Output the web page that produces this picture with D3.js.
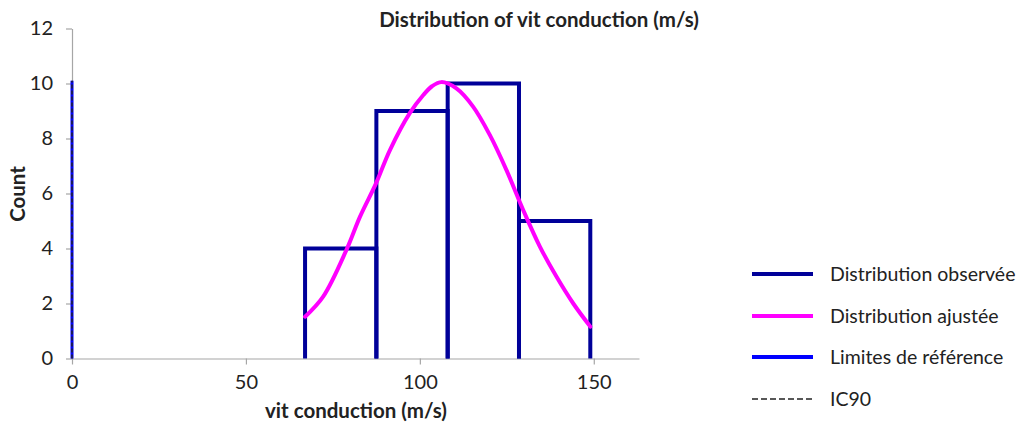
<!DOCTYPE html>
<html><head><meta charset="utf-8">
<script src="https://cdn.jsdelivr.net/npm/d3@7"></script>
<style>
body{margin:0;background:#fff;}
text{font-family:Lato, "Open Sans", sans-serif;fill:#222;}
</style></head>
<body><svg id="c" width="1026" height="425"></svg>
<script>
// Data
const binEdges = [67.0, 87.5, 108.0, 128.5, 149.0];
const binCounts = [4, 9, 10, 5];
const fitX = [67.0, 72.2, 78.9, 82.8, 87.4, 91.4, 97.1, 101.0, 103.5, 106.2, 110.5, 115.3, 120.1, 124.9, 129.7, 134.5, 139.3, 144.1, 149.0];
const fitY = [1.52, 2.25, 3.95, 5.16, 6.37, 7.58, 8.92, 9.58, 9.90, 10.05, 9.82, 9.16, 8.13, 6.85, 5.40, 4.07, 2.97, 2.00, 1.16];
const refLimits = [0];
const refHeight = 10.1;
const ic90 = [0];
const xTicks = [0, 50, 100, 150];
const yTicks = [0, 2, 4, 6, 8, 10, 12];
const legendLabels = ["Distribution observée", "Distribution ajustée", "Limites de référence", "IC90"];

const svg = d3.select("#c");
const x = d3.scaleLinear().domain([0, 163]).range([72, 639]);
const y = d3.scaleLinear().domain([0, 12]).range([358.5, 28.5]);

// axes
const xAxis = svg.append("g").attr("transform", `translate(0,${y(0)})`)
  .call(d3.axisBottom(x).tickValues(xTicks).tickSize(6).tickPadding(10).tickSizeOuter(0));
const yAxis = svg.append("g").attr("transform", `translate(${x(0)},0)`)
  .call(d3.axisLeft(y).tickValues(yTicks).tickSize(6).tickPadding(13).tickSizeOuter(0));
[xAxis, yAxis].forEach(g => {
  g.select(".domain").attr("stroke", "#a6a6a6").attr("stroke-width", 1.2);
  g.selectAll(".tick line").attr("stroke", "#a6a6a6").attr("stroke-width", 1.2);
  g.selectAll(".tick text").style("font-size", "20px").attr("fill", "#222").style("font-family", "Lato, sans-serif");
});

// histogram outlines
const bins = binCounts.map((c, i) => ({x0: binEdges[i], x1: binEdges[i+1], c}));
svg.append("g").selectAll("path").data(bins).join("path")
  .attr("d", d => `M${x(d.x0)},${y(0)}L${x(d.x0)},${y(d.c)}L${x(d.x1)},${y(d.c)}L${x(d.x1)},${y(0)}`)
  .attr("fill", "none").attr("stroke", "#000099").attr("stroke-width", 4).attr("stroke-linejoin", "miter");

// reference limits
svg.append("g").selectAll("line").data(refLimits).join("line")
  .attr("x1", d => x(d)).attr("x2", d => x(d)).attr("y1", y(0)).attr("y2", y(refHeight))
  .attr("stroke", "#0000ff").attr("stroke-width", 3);
svg.append("g").selectAll("line").data(ic90).join("line")
  .attr("x1", d => x(d)).attr("x2", d => x(d)).attr("y1", y(0)).attr("y2", y(refHeight))
  .attr("stroke", "#222").attr("stroke-width", 1.5).attr("stroke-dasharray", "4,2");

// fitted curve
const pts = fitX.map((v, i) => [v, fitY[i]]);
svg.append("path").datum(pts)
  .attr("d", d3.line().x(d => x(d[0])).y(d => y(d[1])).curve(d3.curveCatmullRom))
  .attr("fill", "none").attr("stroke", "#ff00ff").attr("stroke-width", 4).attr("stroke-linecap", "round");

// titles
svg.append("text").attr("x", 539).attr("y", 27).attr("text-anchor", "middle")
  .style("font-weight", "bold").style("font-size", "20.5px").text("Distribution of vit conduction (m/s)");
svg.append("text").attr("x", 356).attr("y", 418).attr("text-anchor", "middle")
  .style("font-weight", "bold").style("font-size", "20.5px").text("vit conduction (m/s)");
svg.append("text").attr("transform", `translate(25,${194}) rotate(-90)`).attr("text-anchor", "middle")
  .style("font-weight", "bold").style("font-size", "20.5px").text("Count");

// legend
const legStyles = [
  {stroke: "#000099", w: 4, dash: null},
  {stroke: "#ff00ff", w: 4, dash: null},
  {stroke: "#0000ff", w: 4, dash: null},
  {stroke: "#222", w: 1.3, dash: "6,3"}
];
const legY = [274, 316, 357, 399];
const lg = svg.append("g");
legendLabels.forEach((t, i) => {
  lg.append("line").attr("x1", 752).attr("x2", 813).attr("y1", legY[i]).attr("y2", legY[i])
    .attr("stroke", legStyles[i].stroke).attr("stroke-width", legStyles[i].w)
    .attr("stroke-dasharray", legStyles[i].dash);
  lg.append("text").attr("x", 830).attr("y", legY[i]).attr("dy", "0.35em")
    .style("font-size", "19.5px").text(t);
});
</script></body></html>
